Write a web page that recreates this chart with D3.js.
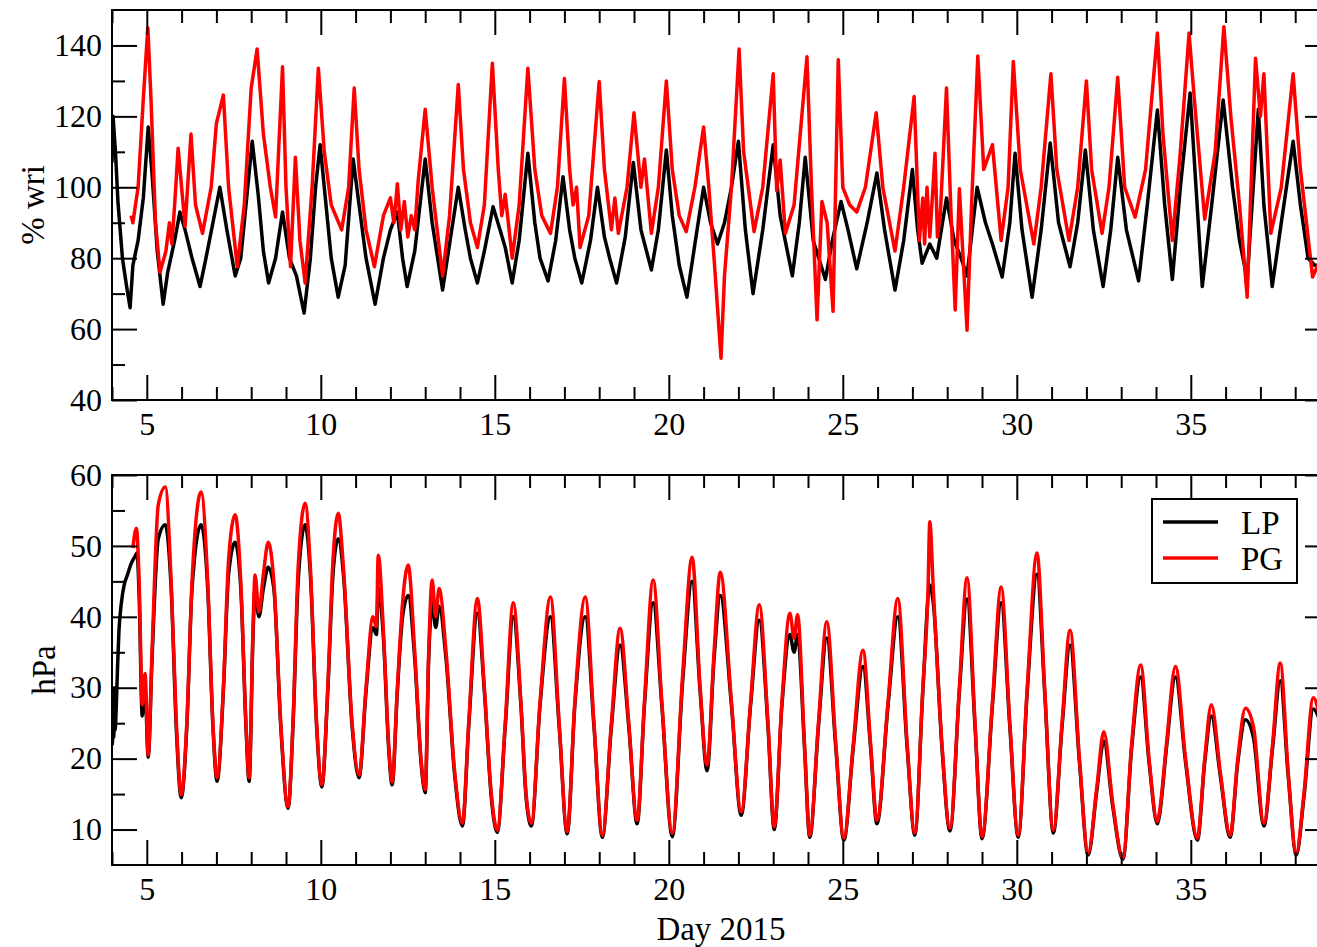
<!DOCTYPE html>
<html>
<head>
<meta charset="utf-8">
<script src="https://cdn.jsdelivr.net/npm/d3@7"></script>
<style>
body { margin: 0; background: #fff; }
text { font-family: "Liberation Serif", "DejaVu Serif", serif; fill: #000; }
</style>
</head>
<body>
<script>
//two stacked panels, xmgrace style, day of year 2015 on x

//legend / series names
var seriesNames = ["LP", "PG"];

//tick values
var dayTicks = [5, 10, 15, 20, 25, 30, 35];
var wriTicks = [40, 60, 80, 100, 120, 140];
var hpaTicks = [10, 20, 30, 40, 50, 60];

//top panel: % wri  [day, value] at turning points
var wriLP = [[4.0,107],[4.03,120],[4.1,110],[4.17,96],[4.3,80],[4.42,72],[4.52,66],[4.6,78],[4.75,85],[4.9,97],[5.04,117],[5.15,104],[5.3,82],[5.47,67],[5.6,76],[5.8,85],[5.95,93],[6.1,88],[6.3,80],[6.53,72],[6.7,80],[6.9,90],[7.1,100],[7.3,88],[7.54,75],[7.7,80],[7.85,95],[8.03,113],[8.2,98],[8.35,82],[8.5,73],[8.7,80],[8.9,93],[9.1,80],[9.3,75],[9.52,64.5],[9.7,80],[9.85,100],[9.98,112],[10.15,95],[10.3,80],[10.5,69],[10.7,78],[10.93,108],[11.1,95],[11.3,80],[11.56,67],[11.8,80],[12.0,88],[12.2,93],[12.35,80],[12.48,72],[12.7,82],[13.0,108],[13.2,90],[13.5,71],[13.7,84],[13.95,100],[14.15,88],[14.3,80],[14.5,73],[14.7,82],[14.95,94.5],[15.15,88],[15.3,83],[15.5,73],[15.7,85],[15.95,109.6],[16.15,90],[16.3,80],[16.53,73.6],[16.75,85],[16.96,103],[17.15,88],[17.3,80],[17.5,73],[17.75,85],[17.95,100],[18.15,86],[18.3,80],[18.5,73],[18.75,86],[18.98,107],[19.2,88],[19.5,76.7],[19.7,88],[19.93,110.5],[20.1,92],[20.3,78],[20.52,69],[20.75,84],[21.0,100],[21.2,90],[21.4,84],[21.6,90],[21.8,100],[22.0,113],[22.2,88],[22.42,70],[22.7,88],[23.0,112],[23.2,92],[23.55,75],[23.75,90],[23.92,108.5],[24.15,85],[24.5,74],[24.7,85],[24.95,96],[25.15,88],[25.4,77],[25.7,90],[25.98,104],[26.2,88],[26.5,71],[26.75,85],[27.0,105],[27.15,88],[27.28,78.6],[27.5,84],[27.7,80],[27.98,97],[28.2,85],[28.4,80],[28.57,75],[28.86,100],[29.1,90],[29.3,84],[29.58,74.7],[29.8,90],[29.95,109.6],[30.15,88],[30.44,69],[30.7,88],[30.96,112.5],[31.2,90],[31.53,77.6],[31.75,90],[31.97,110.5],[32.2,88],[32.48,72],[32.7,88],[32.9,108.5],[33.15,88],[33.5,73.6],[33.75,95],[34.04,121.8],[34.25,95],[34.47,74],[34.7,100],[34.98,126.6],[35.15,100],[35.33,72],[35.6,95],[35.93,124.6],[36.2,100],[36.4,85],[36.62,74],[36.94,122],[37.1,95],[37.34,72],[37.6,90],[37.94,113],[38.15,95],[38.37,80],[38.56,78],[38.8,78]];

var wriPG = [[4.55,92],[4.6,90],[4.75,100],[4.9,125],[5.03,145],[5.12,125],[5.25,90],[5.38,76],[5.55,82],[5.65,90],[5.72,84],[5.8,95],[5.9,111],[6.0,100],[6.1,89],[6.27,115],[6.4,95],[6.6,87],[6.85,100],[7.0,118],[7.2,126],[7.35,100],[7.6,77.6],[7.8,95],[8.0,128],[8.17,139],[8.35,115],[8.55,100],[8.7,91.6],[8.9,134],[9.0,100],[9.13,77.6],[9.27,108.5],[9.4,85],[9.55,73],[9.75,100],[9.93,133.6],[10.1,110],[10.3,95],[10.6,88],[10.8,100],[10.96,128],[11.1,105],[11.3,88],[11.54,77.6],[11.8,92],[12.0,97],[12.1,90],[12.2,101],[12.3,88],[12.4,96],[12.5,86],[12.6,92],[12.7,88],[12.8,102],[13.0,122],[13.2,100],[13.5,75],[13.7,92],[13.95,129],[14.1,105],[14.3,90],[14.5,83],[14.7,95],[14.93,135],[15.1,105],[15.2,92],[15.3,98],[15.5,80],[15.7,95],[15.95,133.6],[16.15,105],[16.35,92],[16.6,87],[16.8,100],[17.0,130.7],[17.15,105],[17.25,95],[17.35,100],[17.45,83],[17.7,92],[18.0,129.8],[18.15,105],[18.35,88],[18.45,97],[18.55,87],[18.8,100],[19.0,121],[19.2,100],[19.3,108],[19.5,87],[19.7,100],[19.93,130],[20.1,105],[20.3,92],[20.5,87.5],[20.75,100],[21.0,117],[21.15,100],[21.3,80],[21.5,51.8],[21.6,75],[21.8,100],[22.02,139],[22.15,110],[22.45,87.5],[22.7,100],[23.0,132],[23.1,99],[23.2,107.7],[23.35,87],[23.6,95],[23.97,136.8],[24.1,100],[24.26,62.6],[24.4,96],[24.55,90],[24.72,65],[24.87,136],[25.0,100],[25.2,95],[25.4,93],[25.65,100],[25.96,121],[26.15,100],[26.5,82],[26.75,100],[27.05,125.6],[27.2,85],[27.3,97],[27.35,84],[27.42,100],[27.5,86],[27.58,98],[27.65,109.6],[27.72,86],[27.8,92],[27.98,128],[28.1,95],[28.23,65.4],[28.35,99.6],[28.57,59.7],[28.7,95],[28.88,137],[29.05,105],[29.3,112],[29.55,85],[29.75,100],[29.9,135.5],[30.1,105],[30.49,84],[30.7,100],[30.98,132],[31.15,105],[31.5,85],[31.75,100],[32.0,130],[32.15,105],[32.45,87],[32.65,100],[32.9,131],[33.1,100],[33.4,91.6],[33.7,105],[34.04,143.5],[34.2,115],[34.47,85],[34.7,110],[34.95,143.5],[35.1,125],[35.4,91],[35.7,110],[35.95,145.3],[36.15,120],[36.4,95],[36.62,69],[36.86,136.4],[37.0,120],[37.1,132],[37.3,87],[37.6,100],[37.94,132],[38.15,105],[38.5,74.7],[38.65,78],[38.8,80]];

//bottom panel: hPa
var hpaLP = [[4.0,28],[4.01,22],[4.03,29],[4.05,23],[4.07,30],[4.09,24],[4.12,27],[4.16,33],[4.2,38],[4.27,42],[4.35,44.5],[4.45,46],[4.55,47.5],[4.66,48.5],[4.72,49],[4.78,43],[4.87,26],[4.95,30],[5.04,20.2],[5.15,34],[5.33,51],[5.53,53],[5.7,44],[5.85,24],[5.99,14.5],[6.15,24.5],[6.3,44],[6.56,53],[6.75,44],[6.9,24.5],[7.02,16.8],[7.2,29.5],[7.35,46],[7.54,50.5],[7.7,44],[7.85,24.5],[7.94,16.8],[8.05,37],[8.11,44],[8.22,40],[8.35,44],[8.49,47],[8.65,44],[8.85,24.5],[9.06,13],[9.2,24.5],[9.35,45],[9.55,53],[9.7,46],[9.88,24.5],[10.03,16],[10.2,29.5],[10.35,46],[10.5,51],[10.65,46],[10.9,24.5],[11.1,17.3],[11.3,29.5],[11.5,38.5],[11.6,37.5],[11.65,44],[11.8,37],[11.95,21.5],[12.05,16.3],[12.2,29.5],[12.35,40],[12.51,43],[12.7,34],[12.88,19.5],[13.0,15.2],[13.1,34],[13.2,42],[13.3,38.5],[13.4,41.5],[13.6,34],[13.85,17.5],[14.07,10.5],[14.25,24.5],[14.5,40.5],[14.7,29.5],[14.9,14.5],[15.07,9.6],[15.3,24.5],[15.53,40],[15.75,27.5],[15.9,14.5],[16.05,10.5],[16.3,27.5],[16.6,40],[16.85,24.5],[17.08,9.4],[17.3,27.5],[17.6,40],[17.85,24.5],[18.09,8.9],[18.35,24.5],[18.6,36],[18.85,24.5],[19.09,10.8],[19.3,27.5],[19.55,42],[19.8,27.5],[20.1,9],[20.4,31],[20.67,45],[20.9,29.5],[21.1,18.3],[21.3,34],[21.48,43],[21.8,27.5],[22.08,12],[22.35,27.5],[22.6,39.5],[22.85,24.5],[23.03,10],[23.25,27.5],[23.48,37.5],[23.6,35],[23.7,37.5],[23.9,21.5],[24.05,8.9],[24.3,24.5],[24.54,37],[24.8,21.5],[25.03,8.5],[25.3,21.5],[25.58,33],[25.8,21.5],[25.98,10.8],[26.3,27.5],[26.58,40],[26.85,21.5],[27.07,9.2],[27.3,29.5],[27.5,44.5],[27.6,42],[27.85,21.5],[28.08,9.8],[28.35,29.5],[28.57,42.5],[28.8,24.5],[29.0,8.7],[29.3,27.5],[29.55,42],[29.8,24.5],[30.04,8.9],[30.3,29.5],[30.58,46],[30.8,29.5],[31.05,9.5],[31.3,24.5],[31.53,36],[31.8,19.5],[32.05,6.4],[32.3,15.5],[32.5,22.5],[32.75,13.5],[33.05,5.8],[33.3,21.5],[33.56,31.5],[33.8,19.5],[34.04,10.8],[34.1,12],[34.3,21.5],[34.56,31.5],[34.85,19.5],[35.19,8.5],[35.4,19.5],[35.59,26],[35.85,17.5],[36.13,8.9],[36.35,19.5],[36.57,25.5],[36.8,23],[37.1,10.5],[37.35,21.5],[37.57,31],[37.8,17.5],[38.03,6.4],[38.25,14.5],[38.52,27],[38.7,25.5]];

var hpaPG = [[4.6,49.7],[4.7,52.5],[4.78,45],[4.87,27.6],[4.95,32],[5.04,20.5],[5.15,35],[5.33,55.8],[5.53,58.3],[5.7,45],[5.85,25],[5.99,14.9],[6.15,25],[6.3,45],[6.56,57.6],[6.75,45],[6.9,25],[7.02,17.3],[7.2,30],[7.35,48],[7.54,54.4],[7.7,45],[7.85,25],[7.94,17.3],[8.05,38],[8.11,45.9],[8.22,40.7],[8.35,46],[8.49,50.5],[8.65,45],[8.85,25],[9.06,13.2],[9.2,25],[9.35,47],[9.55,56],[9.7,47],[9.88,25],[10.03,16.3],[10.2,30],[10.35,48],[10.5,54.6],[10.65,47],[10.9,25],[11.1,17.7],[11.3,30],[11.5,40],[11.6,38.6],[11.65,48.7],[11.8,38],[11.95,22],[12.05,16.7],[12.2,30],[12.35,42],[12.51,47.3],[12.7,35],[12.88,20],[13.0,15.6],[13.1,35],[13.2,45.2],[13.3,40],[13.4,44],[13.6,35],[13.85,18],[14.07,10.9],[14.25,25],[14.5,42.6],[14.7,30],[14.9,15],[15.07,9.9],[15.3,25],[15.53,42],[15.75,28],[15.9,15],[16.05,10.9],[16.3,28],[16.6,42.8],[16.85,25],[17.08,9.7],[17.3,28],[17.6,42.8],[17.85,25],[18.09,9.2],[18.35,25],[18.6,38.4],[18.85,25],[19.09,11.3],[19.3,28],[19.55,45.2],[19.8,28],[20.1,9.5],[20.4,32],[20.67,48.4],[20.9,30],[21.1,19.1],[21.3,35],[21.48,46.3],[21.8,28],[22.08,12.5],[22.35,28],[22.6,41.7],[22.85,25],[23.03,10.4],[23.25,28],[23.48,40.5],[23.6,37],[23.7,40.3],[23.9,22],[24.05,9.2],[24.3,25],[24.54,39.3],[24.8,22],[25.03,8.8],[25.3,22],[25.58,35.3],[25.8,22],[25.98,11.3],[26.3,28],[26.58,42.6],[26.85,22],[27.07,9.5],[27.3,30],[27.45,44],[27.5,53.4],[27.6,44],[27.85,22],[28.08,10.2],[28.35,30],[28.57,45.5],[28.8,25],[29.0,9],[29.3,28],[29.55,44.2],[29.8,25],[30.04,9.2],[30.3,30],[30.58,49],[30.8,30],[31.05,9.9],[31.3,25],[31.53,38.1],[31.8,20],[32.05,6.7],[32.3,16],[32.5,23.8],[32.75,14],[33.05,6],[33.3,22],[33.56,33.2],[33.8,20],[34.04,11.1],[34.1,12.5],[34.3,22],[34.56,33],[34.85,20],[35.19,8.8],[35.4,20],[35.59,27.6],[35.85,18],[36.13,9.2],[36.35,20],[36.57,27.1],[36.8,24.5],[37.1,10.9],[37.35,22],[37.57,33.5],[37.8,18],[38.03,6.7],[38.25,15],[38.52,28.6],[38.7,26]];

window.onload = function(){

    var W = 1317, H = 947;
    var left = 112, right = 1330;
    var colors = ["#000000", "#ff0000"];
    var fontSize = 32;

    var svg = d3.select("body").append("svg")
        .attr("width", W)
        .attr("height", H);

    //shared x scale
    var x = d3.scaleLinear().domain([4, 39]).range([left, right]);
    var minorDays = d3.range(4, 40).filter(function(d){ return d % 5 !== 0; });

    //draws one framed panel with inward ticks on all four sides
    function panel(id, top, bottom, yDomain, yTicks, yMinor, yTitle, titleX, series, curve){
        var y = d3.scaleLinear().domain(yDomain).range([bottom, top]);

        svg.append("clipPath").attr("id", id)
            .append("rect")
            .attr("x", left).attr("y", top)
            .attr("width", right - left).attr("height", bottom - top);

        var line = d3.line()
            .x(function(d){ return x(d[0]); })
            .y(function(d){ return y(d[1]); })
            .curve(curve);

        svg.append("g").attr("clip-path", "url(#" + id + ")")
            .selectAll("path")
            .data(series)
            .enter()
            .append("path")
            .attr("d", function(d){ return line(d); })
            .attr("fill", "none")
            .attr("stroke", function(d, i){ return colors[i]; })
            .attr("stroke-width", 3.5)
            .attr("stroke-linejoin", "round");

        //axes: major 25px, minor 13px, pointing into the frame
        function addAxis(axis, tx, ty){
            var g = svg.append("g")
                .attr("transform", "translate(" + tx + "," + ty + ")")
                .call(axis);
            g.select(".domain").remove();
            g.selectAll("line").attr("stroke", "#000").attr("stroke-width", 2);
            g.selectAll("text")
                .attr("font-size", fontSize)
                .attr("font-family", "'Liberation Serif', 'DejaVu Serif', serif")
                .attr("fill", "#000");
            return g;
        }

        addAxis(d3.axisBottom(x).tickValues(dayTicks).tickSize(-25).tickPadding(12).tickFormat(d3.format("d")), 0, bottom);
        addAxis(d3.axisBottom(x).tickValues(minorDays).tickSize(-13).tickFormat(""), 0, bottom);
        addAxis(d3.axisTop(x).tickValues(dayTicks).tickSize(-25).tickFormat(""), 0, top);
        addAxis(d3.axisTop(x).tickValues(minorDays).tickSize(-13).tickFormat(""), 0, top);

        addAxis(d3.axisLeft(y).tickValues(yTicks).tickSize(-25).tickPadding(10).tickFormat(d3.format("d")), left, 0);
        addAxis(d3.axisLeft(y).tickValues(yMinor).tickSize(-13).tickFormat(""), left, 0);
        addAxis(d3.axisRight(y).tickValues(yTicks).tickSize(-25).tickFormat(""), right, 0);
        addAxis(d3.axisRight(y).tickValues(yMinor).tickSize(-13).tickFormat(""), right, 0);

        //frame
        svg.append("rect")
            .attr("x", left).attr("y", top)
            .attr("width", right - left).attr("height", bottom - top)
            .attr("fill", "none")
            .attr("stroke", "#000")
            .attr("stroke-width", 2);

        //y title
        svg.append("text")
            .attr("transform", "translate(" + titleX + "," + ((top + bottom) / 2) + ") rotate(-90)")
            .attr("text-anchor", "middle")
            .attr("font-size", 33)
            .text(yTitle);

        return y;
    }

    panel("clipTop", 10, 400, [40, 150], wriTicks, [50, 70, 90, 110, 130], "% wri", 44,
        [wriLP, wriPG], d3.curveLinear);
    panel("clipBottom", 475, 865, [5, 60], hpaTicks, [15, 25, 35, 45, 55], "hPa", 55,
        [hpaLP, hpaPG], d3.curveMonotoneX);

    //x title
    svg.append("text")
        .attr("x", 721)
        .attr("y", 940)
        .attr("text-anchor", "middle")
        .attr("font-size", 33)
        .text("Day 2015");

    //legend
    var legend = svg.append("g").attr("transform", "translate(1152,499)");
    legend.append("rect")
        .attr("width", 145).attr("height", 84)
        .attr("fill", "#fff")
        .attr("stroke", "#000")
        .attr("stroke-width", 2);
    var items = legend.selectAll(".item")
        .data(seriesNames)
        .enter()
        .append("g")
        .attr("class", "item")
        .attr("transform", function(d, i){ return "translate(0," + (23 + i * 36) + ")"; });
    items.append("line")
        .attr("x1", 11).attr("x2", 66)
        .attr("stroke", function(d, i){ return colors[i]; })
        .attr("stroke-width", 3.5);
    items.append("text")
        .attr("x", 89)
        .attr("y", 12)
        .attr("font-size", 33)
        .text(function(d){ return d; });
};
</script>
</body>
</html>
